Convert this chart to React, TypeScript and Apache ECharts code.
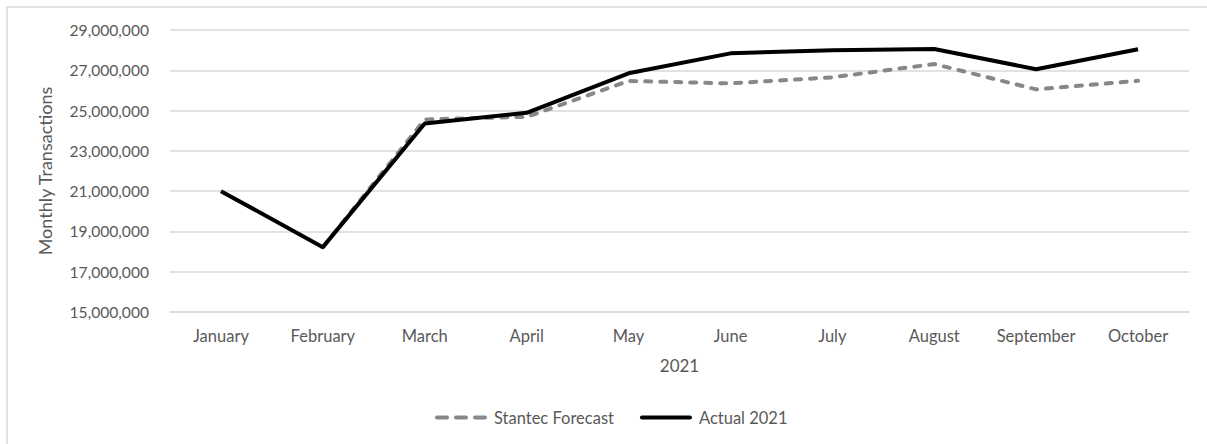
import React, { useEffect, useRef } from "react";
import * as echarts from "echarts";

const months = ["January", "February", "March", "April", "May", "June", "July", "August", "September", "October"];
const forecast = [null, 18220000, 24560000, 24690000, 26470000, 26350000, 26650000, 27310000, 26050000, 26480000];
const actual = [21000000, 18220000, 24360000, 24890000, 26850000, 27840000, 28000000, 28060000, 27050000, 28040000];
const yTicks = { min: 15000000, max: 29000000, interval: 2000000 };

const FONT = "Lato";
const TXT = "#595959";

const dashIcon =
  "path://M2,0H12A2,2 0 0 1 12,4H2A2,2 0 0 1 2,0Z M21,0H31A2,2 0 0 1 31,4H21A2,2 0 0 1 21,0Z M40,0H50A2,2 0 0 1 50,4H40A2,2 0 0 1 40,0Z";
const solidIcon = "path://M2,0H50A2,2 0 0 1 50,4H2A2,2 0 0 1 2,0Z";

export default function App() {
  const ref = useRef<HTMLDivElement>(null);
  useEffect(() => {
    if (!ref.current) return;
    const chart = echarts.init(ref.current, null, { renderer: "svg" });
    chart.setOption({
      animation: false,
      backgroundColor: "#ffffff",
      textStyle: { fontFamily: FONT, color: TXT },
      graphic: [
        {
          type: "rect",
          shape: { x: 7, y: 7, width: 1220, height: 460 },
          style: { fill: "none", stroke: "#d9d9d9", lineWidth: 1.5 },
          silent: true,
        },
      ],
      grid: { left: 170, right: 18, top: 30, bottom: 132, containLabel: false },
      legend: {
        bottom: 13,
        left: 430,
        itemWidth: 52,
        itemHeight: 4,
        itemGap: 26,
        textStyle: { fontFamily: FONT, color: TXT, fontSize: 16.5, padding: [0, 0, 0, 2] },
        data: [
          { name: "Stantec Forecast", icon: dashIcon },
          { name: "Actual 2021", icon: solidIcon },
        ],
      },
      xAxis: {
        type: "category",
        data: months,
        boundaryGap: true,
        name: "2021",
        nameLocation: "middle",
        nameGap: 45,
        nameTextStyle: { fontFamily: FONT, color: TXT, fontSize: 17 },
        axisLine: { show: true, lineStyle: { color: "#d9d9d9", width: 1.5 } },
        axisTick: { show: false },
        axisLabel: { fontFamily: FONT, color: TXT, fontSize: 16.5, margin: 15, interval: 0 },
      },
      yAxis: {
        type: "value",
        min: yTicks.min,
        max: yTicks.max,
        interval: yTicks.interval,
        name: "Monthly Transactions",
        nameLocation: "middle",
        nameGap: 116,
        nameTextStyle: { fontFamily: FONT, color: TXT, fontSize: 18 },
        axisLine: { show: false },
        axisTick: { show: false },
        splitLine: { lineStyle: { color: "#d9d9d9", width: 1.5 } },
        axisLabel: {
          fontFamily: FONT,
          color: TXT,
          fontSize: 15.6,
          margin: 21,
          formatter: (v: number) => v.toLocaleString("en-US"),
        },
      },
      series: [
        {
          name: "Stantec Forecast",
          type: "line",
          data: forecast,
          symbol: "none",
          connectNulls: false,
          lineStyle: { color: "#878787", width: 4, type: [6, 9], cap: "round" },
          itemStyle: { color: "#878787" },
          z: 2,
        },
        {
          name: "Actual 2021",
          type: "line",
          data: actual,
          symbol: "none",
          lineStyle: { color: "#000000", width: 4 },
          itemStyle: { color: "#000000" },
          z: 3,
        },
      ],
    });
    return () => chart.dispose();
  }, []);
  return (
    <div
      ref={ref}
      style={{ position: "absolute", left: 0, top: 0, width: 1207, height: 444 }}
    />
  );
}
